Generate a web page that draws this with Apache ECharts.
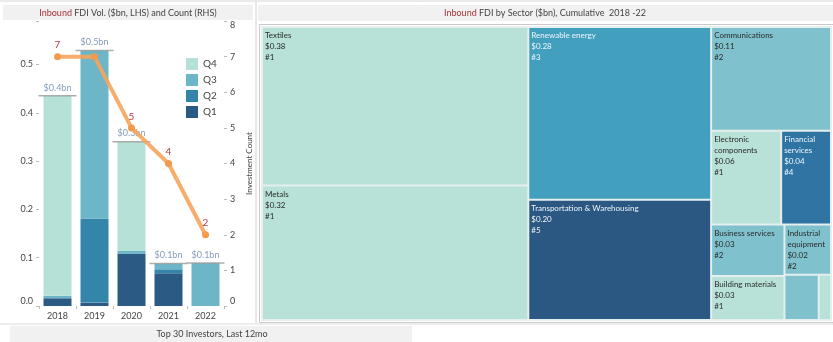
<!DOCTYPE html>
<html>
<head>
<meta charset="utf-8">
<script src="https://cdn.jsdelivr.net/npm/echarts@6/dist/echarts.min.js"></script>
<style>
html, body { margin: 0; padding: 0; background: #fff; }
#view-chart { width: 833px; height: 342px; }
</style>
</head>
<body>
<div id="view-chart"></div>
<script>
// left panel: quarterly volume ($bn) and deal count
var years = ['2018', '2019', '2020', '2021', '2022'];
var q1 = [0.016, 0.007, 0.108, 0.068, 0];
var q2 = [0, 0.174, 0, 0.008, 0];
var q3 = [0.005, 0.348, 0.006, 0.012, 0.089];
var q4 = [0.414, 0, 0.226, 0, 0];
var counts = [7, 7, 5, 4, 2];
var countLabelShown = [true, false, true, true, true];

// right panel: cumulative sector volume
var sectors = ['Textiles', 'Metals', 'Renewable energy', 'Transportation & Warehousing', 'Communications',
	'Electronic components', 'Financial services', 'Business services', 'Building materials',
	'Industrial equipment', 'Other A', 'Other B'];
var sectorValues = [0.38, 0.322, 0.284, 0.198, 0.112, 0.059, 0.042, 0.034, 0.029, 0.021, 0.014, 0.005];
var sectorRanks = [1, 1, 3, 5, 2, 1, 4, 2, 1, 2, 2, 1];

var qColors = { Q1: '#2b5a84', Q2: '#3386aa', Q3: '#6cb6c8', Q4: '#b6e1d7' };
var rankColors = { 1: '#b8e2d8', 2: '#7fc2cd', 3: '#42a0be', 4: '#2f74a2', 5: '#2b5783' };
var font = 'Lato';

var totals = [];
for (var k = 0; k < years.length; k++) totals.push(q1[k] + q2[k] + q3[k] + q4[k]);

function barSeries(name, data) {
	return {
		name: name, type: 'bar', stack: 'vol', data: data, barWidth: 28,
		itemStyle: { color: qColors[name] }
	};
}

var treeData = [];
for (var i = 0; i < sectors.length; i++) {
	treeData.push({
		name: sectors[i], value: sectorValues[i], rank: sectorRanks[i],
		itemStyle: { color: rankColors[sectorRanks[i]] },
		label: { show: sectorValues[i] >= 0.015, color: sectorRanks[i] >= 3 ? '#eef6f9' : '#2a2a2a' }
	});
}

var lineData = [];
for (var j = 0; j < counts.length; j++) {
	lineData.push({ value: counts[j], label: { show: countLabelShown[j] } });
}

var axisText = { fontFamily: font, fontSize: 9, color: '#444', margin: 6 };

var option = {
	animation: false,
	textStyle: { fontFamily: font },
	graphic: [
		{ type: 'line', shape: { x1: 0, y1: 1, x2: 833, y2: 1 }, style: { stroke: '#d6d6d6', lineWidth: 1 } },
		{ type: 'rect', shape: { x: 3, y: 5, width: 250, height: 15 }, style: { fill: '#f1f1f1' } },
		{ type: 'rect', shape: { x: 258, y: 5, width: 575, height: 16 }, style: { fill: '#f1f1f1' } },
		{ type: 'line', shape: { x1: 256, y1: 2, x2: 256, y2: 323 }, style: { stroke: '#d0d0d0', lineWidth: 1 } },
		{ type: 'rect', shape: { x: 259.5, y: 24.5, width: 575, height: 298 }, style: { fill: 'none', stroke: '#c9c9c9', lineWidth: 1 } },
		{ type: 'line', shape: { x1: 0, y1: 324, x2: 833, y2: 324 }, style: { stroke: '#dcdcdc', lineWidth: 1 } },
		{ type: 'rect', shape: { x: 10, y: 326, width: 402, height: 16 }, style: { fill: '#f1f1f1' } },
		{
			type: 'text', x: 128, y: 13,
			style: {
				text: '{r|Inbound} FDI Vol. ($bn, LHS) and Count (RHS)', align: 'center', verticalAlign: 'middle',
				fontFamily: font, fontSize: 9, fill: '#444',
				rich: { r: { fill: '#a8323a', fontFamily: font, fontSize: 9 } }
			}
		},
		{
			type: 'text', x: 545, y: 13,
			style: {
				text: '{r|Inbound} FDI by Sector ($bn), Cumulative  2018 -22', align: 'center', verticalAlign: 'middle',
				fontFamily: font, fontSize: 9, fill: '#444',
				rich: { r: { fill: '#a8323a', fontFamily: font, fontSize: 9 } }
			}
		},
		{
			type: 'text', x: 212, y: 334,
			style: { text: 'Top 30 Investors, Last 12mo', align: 'center', verticalAlign: 'middle', fontFamily: font, fontSize: 9, fill: '#444' }
		}
	],
	legend: {
		data: ['Q4', 'Q3', 'Q2', 'Q1'], orient: 'vertical', left: 181, top: 53,
		itemWidth: 12, itemHeight: 12, itemGap: 4, icon: 'rect',
		textStyle: { fontFamily: font, fontSize: 10, color: '#444' }
	},
	grid: { left: 39, top: 21, width: 185, bottom: 36 },
	xAxis: {
		type: 'category', data: years,
		axisLine: { show: false },
		axisTick: { show: true, length: 3, lineStyle: { color: '#bbb' } },
		axisLabel: axisText
	},
	yAxis: [
		{
			type: 'value', min: 0, max: 0.59, interval: 0.1,
			splitLine: { show: false }, axisLine: { show: false },
			axisTick: { show: true, length: 3, lineStyle: { color: '#bbb' } },
			axisLabel: {
				fontFamily: font, fontSize: 9, color: '#444', margin: 6, verticalAlignMinLabel: 'bottom',
				formatter: function(v) { return Math.abs(v * 10 - Math.round(v * 10)) < 1e-6 ? v.toFixed(1) : ''; }
			}
		},
		{
			type: 'value', min: 0, max: 8, interval: 1, position: 'right',
			splitLine: { show: false }, axisLine: { show: false },
			axisTick: { show: true, length: 3, lineStyle: { color: '#bbb' } },
			axisLabel: {
				fontFamily: font, fontSize: 9, color: '#444', margin: 6,
				verticalAlignMinLabel: 'bottom', verticalAlignMaxLabel: 'top'
			},
			name: 'Investment Count', nameLocation: 'middle', nameRotate: 90, nameGap: 21,
			nameTextStyle: { fontFamily: font, fontSize: 8, color: '#444' }
		}
	],
	series: [
		barSeries('Q1', q1),
		barSeries('Q2', q2),
		barSeries('Q3', q3),
		barSeries('Q4', q4),
		{
			name: 'total', type: 'scatter', data: totals, symbol: 'rect', symbolSize: [38, 1.5],
			itemStyle: { color: '#9a9a9a' }, z: 3,
			label: {
				show: true, position: 'top', distance: 3, fontFamily: font, fontSize: 9, color: '#6783a8',
				formatter: function(p) { return '$' + p.value.toFixed(1) + 'bn'; }
			}
		},
		{
			name: 'count', type: 'line', yAxisIndex: 1, data: lineData, z: 4,
			symbol: 'circle', symbolSize: 7,
			lineStyle: { color: '#f6a55c', width: 4, opacity: 0.9 },
			itemStyle: { color: '#f39a4c' },
			label: { position: 'top', distance: 3, fontFamily: font, fontSize: 10, color: '#b23a44' }
		},
		{
			type: 'treemap', left: 261, top: 26, right: 1, bottom: 21,
			squareRatio: 1, roam: false, nodeClick: false, breadcrumb: { show: false },
			itemStyle: { borderWidth: 1, borderColor: '#e6eeee', gapWidth: 0 },
			label: {
				show: true, position: 'insideTopLeft', distance: 1, padding: [1, 1], overflow: 'break',
				fontFamily: font, fontSize: 8, lineHeight: 11,
				formatter: function(p) { return p.name + '\n$' + p.value.toFixed(2) + '\n#' + p.data.rank; }
			},
			emphasis: { disabled: true },
			data: treeData
		}
	]
};

var myChart = echarts.init(document.getElementById('view-chart'));
myChart.setOption(option);
</script>
</body>
</html>
